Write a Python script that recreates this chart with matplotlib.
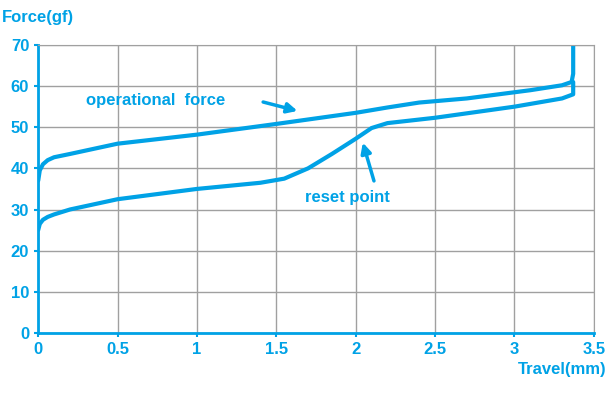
import matplotlib
matplotlib.use("Agg")
import matplotlib.pyplot as plt
from matplotlib.ticker import FuncFormatter

plt.rcParams["font.family"] = ["Liberation Sans", "DejaVu Sans"]
BLUE = "#00a2e6"

op_x = [0.0, 0.01, 0.03, 0.06, 0.1, 0.2, 0.5, 1.0, 1.5, 2.0, 2.2, 2.4, 2.7, 2.9, 3.1, 3.3, 3.36, 3.37, 3.37]
op_y = [37.0, 39.5, 41.0, 42.0, 42.7, 43.5, 46.0, 48.2, 50.8, 53.5, 54.8, 56.0, 57.0, 58.0, 59.0, 60.2, 61.0, 63.0, 70.0]
rs_x = [0.0, 0.01, 0.03, 0.06, 0.1, 0.2, 0.5, 1.0, 1.4, 1.55, 1.7, 1.85, 2.0, 2.1, 2.2, 2.5, 3.0, 3.3, 3.37, 3.37]
rs_y = [25.0, 26.5, 27.5, 28.2, 28.8, 30.0, 32.5, 35.0, 36.5, 37.5, 40.0, 43.5, 47.2, 49.8, 51.0, 52.3, 55.0, 57.0, 58.0, 61.0]

fig = plt.figure(figsize=(6.16, 4.05), dpi=100)
ax = fig.add_axes([0.062, 0.178, 0.902, 0.711])
ax.plot(op_x, op_y, color=BLUE, lw=3, solid_capstyle="round")
ax.plot(rs_x, rs_y, color=BLUE, lw=3, solid_capstyle="round")

ax.set_xlim(0, 3.5)
ax.set_ylim(0, 70)
ax.set_xticks([0, 0.5, 1, 1.5, 2, 2.5, 3, 3.5])
ax.set_yticks(range(0, 71, 10))
ax.xaxis.set_major_formatter(FuncFormatter(lambda v, p: f"{v:g}"))
ax.grid(True, color="#a0a0a0", lw=1)
for s in ["top", "right"]:
    ax.spines[s].set_color("#a0a0a0")
for s in ["left", "bottom"]:
    ax.spines[s].set_color(BLUE)
    ax.spines[s].set_linewidth(2)
ax.tick_params(colors=BLUE, labelsize=12, length=3, width=1.5)
for lab in ax.get_xticklabels() + ax.get_yticklabels():
    lab.set_fontweight("bold")

font = dict(color=BLUE, fontsize=12, fontweight="bold")
fig.text(0.003, 0.975, "Force(gf)", ha="left", va="top", **font)
fig.text(0.985, 0.07, "Travel(mm)", ha="right", va="bottom", **font)

ax.text(0.3, 56.6, "operational  force", ha="left", va="center", **font)
ax.annotate("", xy=(1.65, 53.8), xytext=(1.4, 56.3),
            arrowprops=dict(arrowstyle="-|>,head_length=0.6,head_width=0.3", color=BLUE, lw=2.5))
ax.text(1.68, 32.8, "reset point", ha="left", va="center", **font)
ax.annotate("", xy=(2.04, 46.9), xytext=(2.12, 36.3),
            arrowprops=dict(arrowstyle="-|>,head_length=0.6,head_width=0.3", color=BLUE, lw=2.5))

fig.savefig("out.png", dpi=100)
